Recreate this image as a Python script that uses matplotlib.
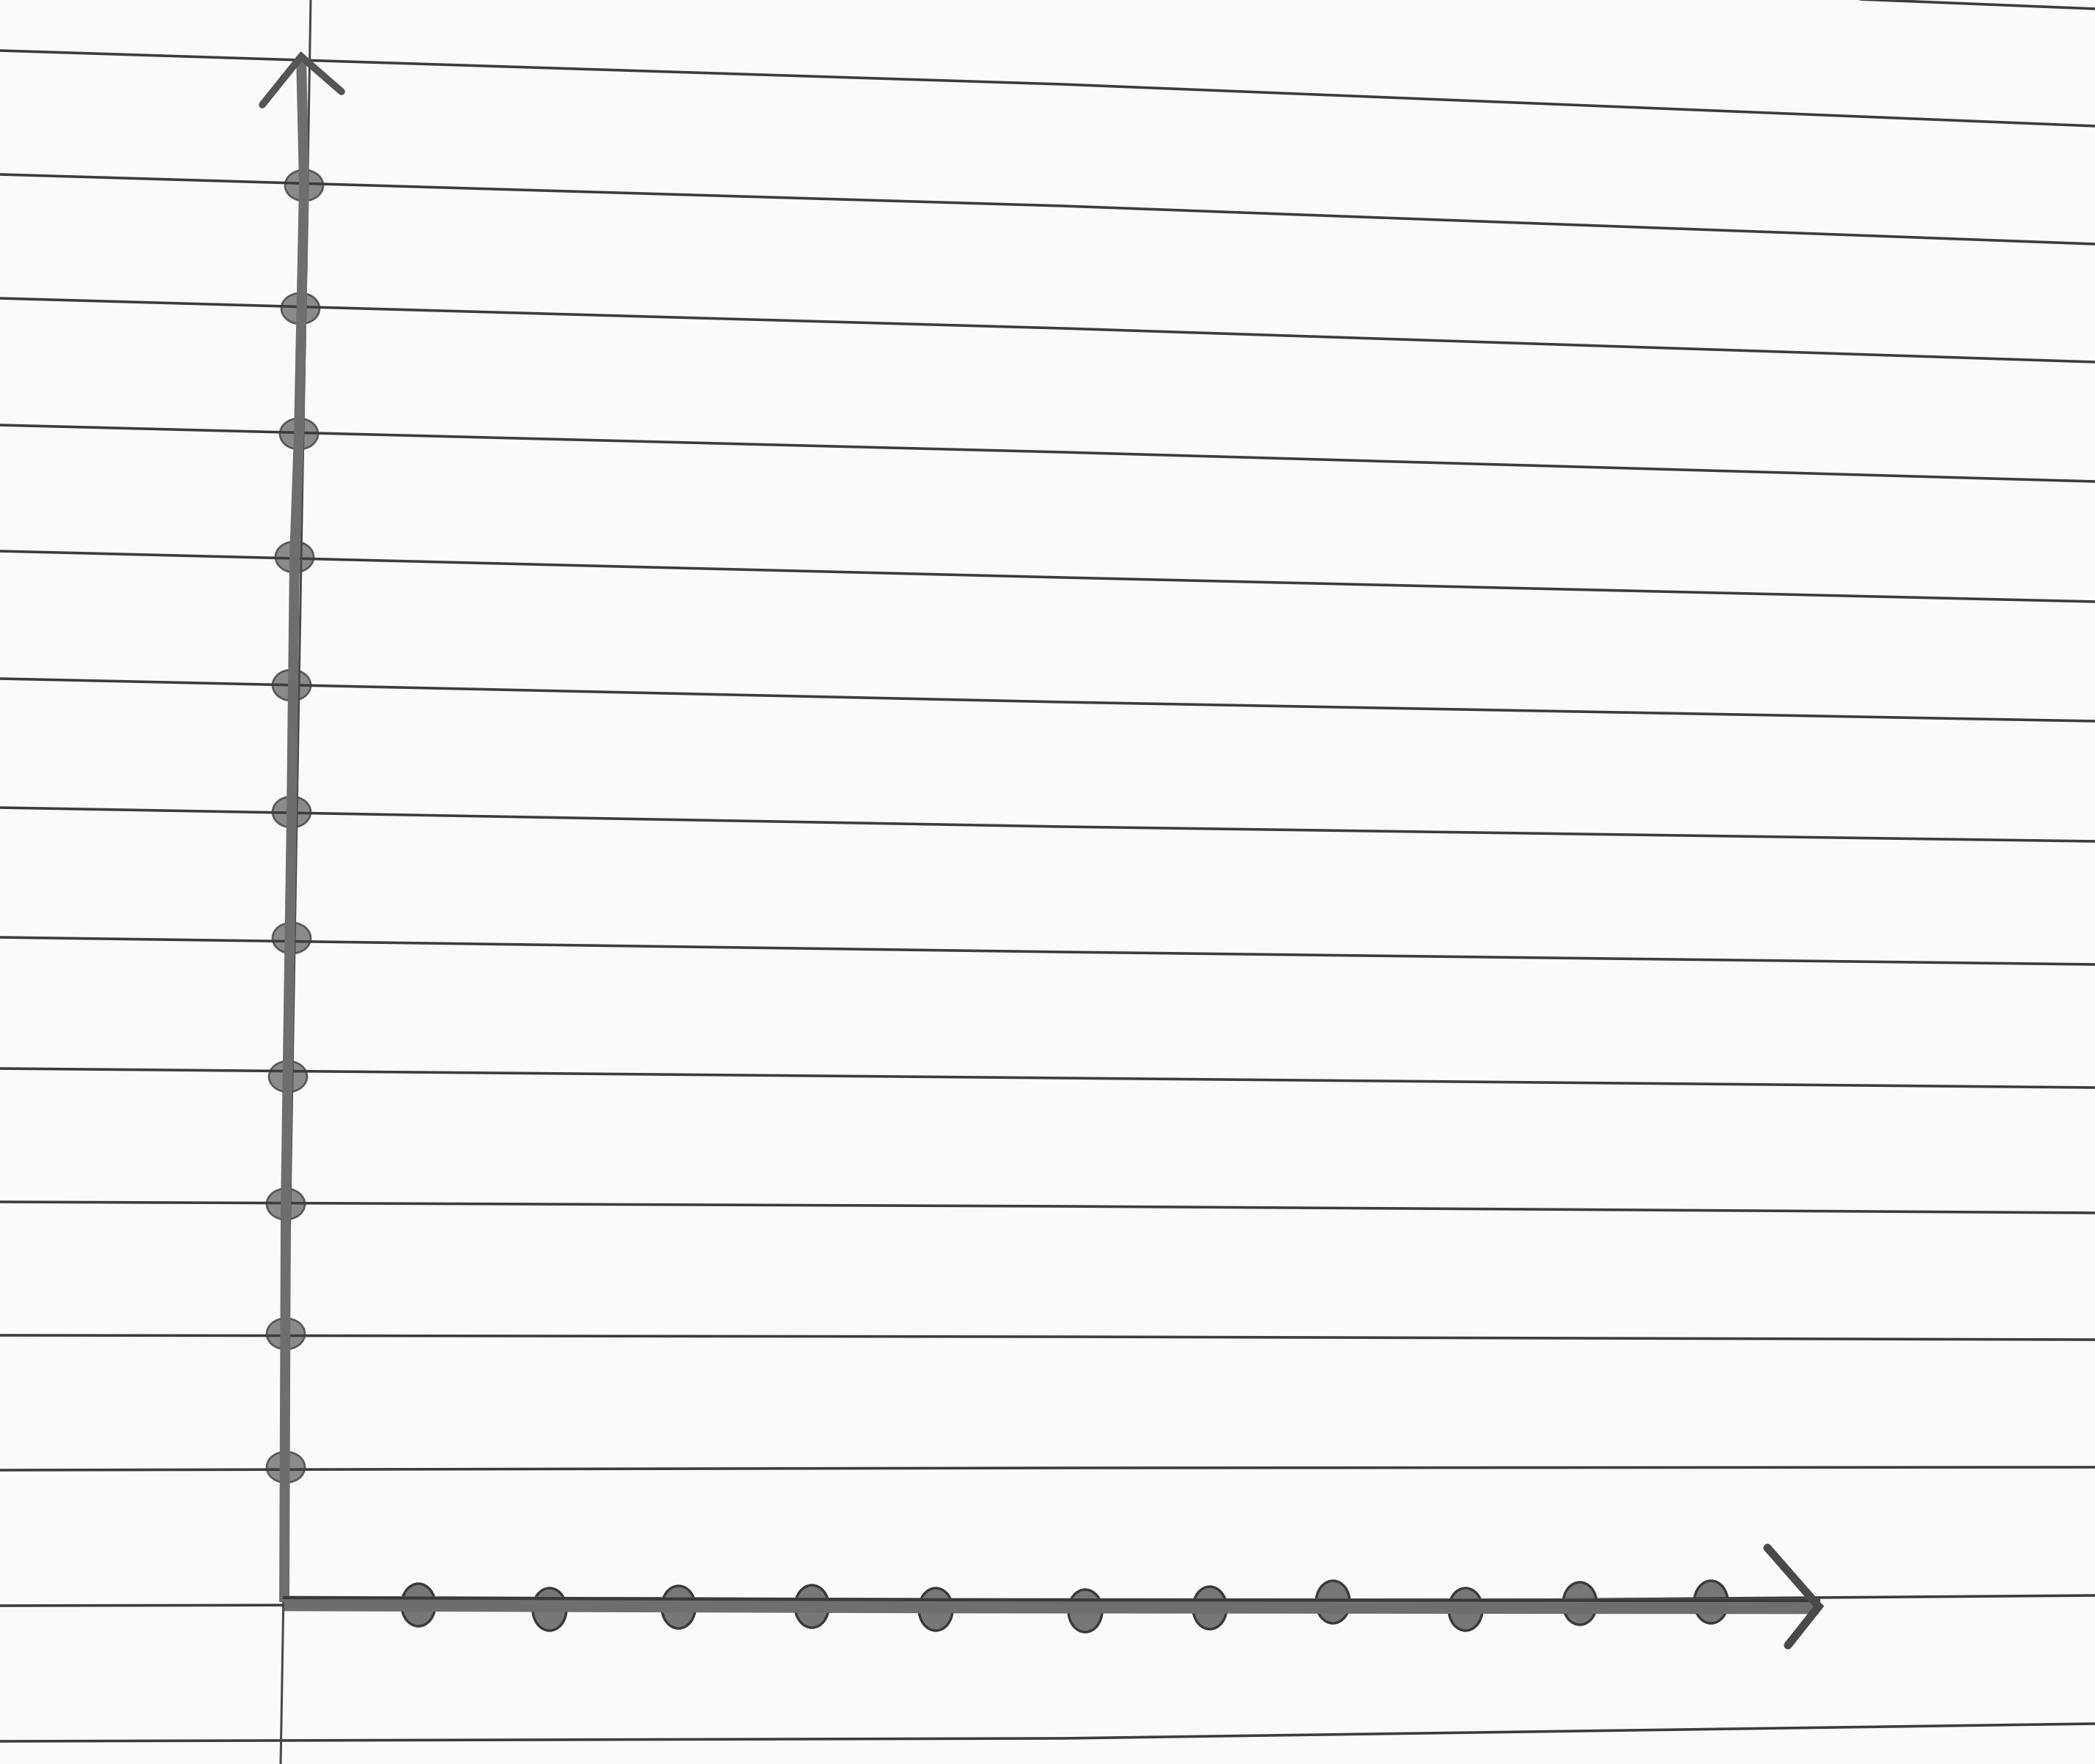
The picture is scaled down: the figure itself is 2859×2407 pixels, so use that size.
import numpy as np
import matplotlib.pyplot as plt
from matplotlib.patches import Ellipse

W, H = 2859, 2407

# ruled paper lines: y at left edge, middle (x=1450) and right edge (pixels)
rule_xs = [0, 1450, W]
rule_left = [-98, 69, 238, 407, 580, 752, 926, 1102, 1279, 1458, 1640, 1822, 2006, 2191, 2376]
rule_mid = [-45, 115, 281, 448, 617, 788, 958, 1128, 1299, 1471, 1646, 1824, 2003, 2188, 2372]
rule_right = [12, 172, 333, 494, 657, 821, 984, 1148, 1316, 1484, 1655, 1828, 2002, 2177, 2352]

# margin line (top, bottom)
margin_x = [424, 383]
margin_y = [0, H]

# hand drawn y axis
yaxis_x = [388, 390, 398, 402, 408, 415, 411]
yaxis_y = [2186, 1643, 1108, 760, 592, 253, 77]
ydot_x = [415, 410, 408, 402, 398, 398, 398, 393, 390, 390, 390]
ydot_y = [253, 421, 592, 760, 935, 1108, 1280, 1469, 1643, 1820, 2002]

# hand drawn x axis
xaxis_x = [388, 1300, 2482]
xaxis_y = [2188, 2191, 2192]
xdot_x = [571, 750, 926, 1108, 1277, 1481, 1651, 1819, 2000, 2156, 2335]
xdot_y = [2190, 2196, 2193, 2192, 2196, 2198, 2194, 2186, 2196, 2188, 2186]

# arrow heads: arm end, tip, arm end
yarrow_x = [358, 411, 466]
yarrow_y = [143, 77, 125]
xarrow_x = [2412, 2482, 2440]
xarrow_y = [2112, 2192, 2245]

paper = "#fafafa"
fig = plt.figure(figsize=(W / 100, H / 100), dpi=100)
fig.patch.set_facecolor(paper)
ax = fig.add_axes([0, 0, 1, 1])
ax.set_facecolor(paper)
ax.set_xlim(0, W)
ax.set_ylim(H, 0)
ax.axis("off")

for yl, ym, yr in zip(rule_left, rule_mid, rule_right):
    ax.plot(rule_xs, [yl, ym, yr], color="#3c3c3c", lw=2.6, solid_capstyle="butt")

ax.plot(margin_x, margin_y, color="#4a4a4a", lw=2.2)

pencil = "#6e6e6e"
edge = "#3a3a3a"

ax.plot(yaxis_x, yaxis_y, color=pencil, lw=10, solid_capstyle="butt")
ax.plot(xaxis_x, xaxis_y, color=pencil, lw=15, solid_capstyle="butt")
ax.plot(xaxis_x, np.array(xaxis_y) - 8, color=edge, lw=3)
ax.plot(yarrow_x, yarrow_y, color="#555555", lw=7, solid_capstyle="round", solid_joinstyle="miter")
ax.plot(xarrow_x, xarrow_y, color="#4a4a4a", lw=8, solid_capstyle="round", solid_joinstyle="miter")

for x, y in zip(ydot_x, ydot_y):
    ax.add_patch(Ellipse((x, y), 52, 42, facecolor="#8a8a8a", edgecolor="#5a5a5a", lw=2))

for x, y in zip(xdot_x, xdot_y):
    ax.add_patch(Ellipse((x, y), 46, 58, facecolor="#777777", edgecolor=edge, lw=2.5))

fig.savefig("out.png", dpi=100, facecolor=fig.get_facecolor())
